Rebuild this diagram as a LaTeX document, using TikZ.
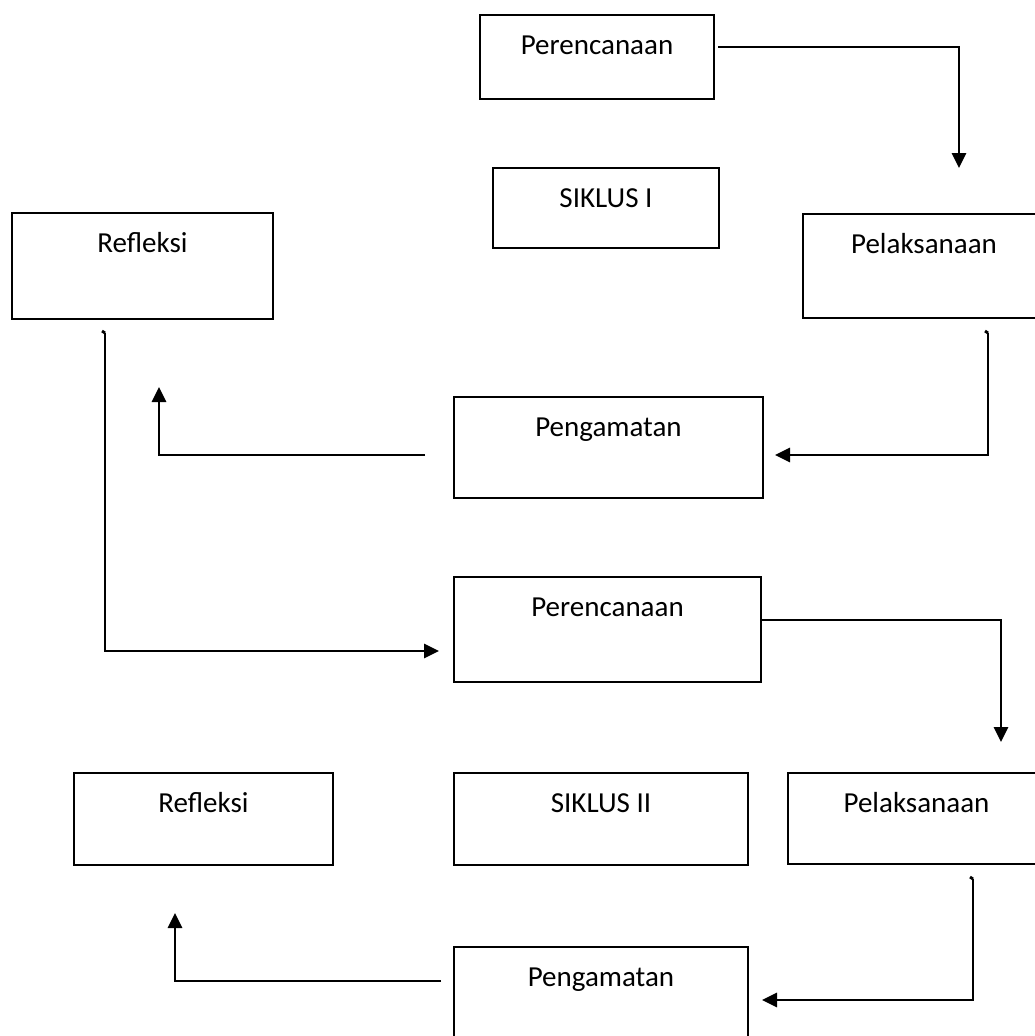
\documentclass[tikz,border=0pt]{standalone}
\usepackage{fontspec}
\setmainfont{Carlito}
\usetikzlibrary{arrows.meta,calc}
\newcommand{\tbox}[6]{%
  \node[box, minimum width={(#4-#2)*1pt}, minimum height={(#5-#3)*1pt}] (#1) at ({(#2+#4)/2},{(#3+#5)/2}) {};
  \node[lbl] (#1t) at ($(#1.north)+(0,39)$) {#6};}
\begin{document}
\begin{tikzpicture}[x=1pt,y=-1pt,
  box/.style={draw, line width=2pt, inner sep=0pt, outer sep=0pt, rectangle},
  lbl/.style={anchor=base, inner sep=0pt, font=\fontsize{29}{34}\selectfont},
  arr/.style={line width=2.8pt, -{Triangle[width=14pt,length=15pt]}},
  hook/.style={line width=2.8pt}]
\useasboundingbox (0,0) rectangle (1035,1036);

\tbox{plan1}{480}{15}{714}{99}{Perencanaan}
\tbox{sik1}{493}{168}{719}{248}{SIKLUS I}
\tbox{ref1}{12}{213}{273}{319}{Refleksi}
\tbox{pel1}{803}{214}{1045}{318}{Pelaksanaan}
\tbox{obs1}{454}{397}{763}{498}{Pengamatan}
\tbox{plan2}{454}{577}{761}{682}{Perencanaan}
\tbox{ref2}{74}{773}{333}{865}{Refleksi}
\tbox{sik2}{454}{773}{748}{865}{SIKLUS II}
\tbox{pel2}{788}{773}{1045}{864}{Pelaksanaan}
\tbox{obs2}{454}{947}{748}{1050}{Pengamatan}

% arrow 1
\coordinate (a1s) at (718,47);
\coordinate (a1e) at (959,168);
\draw[arr] (a1s) -| (a1e);
% arrow 2
\coordinate (a2h) at (985,331);
\coordinate (a2s) at (988,333);
\coordinate (a2e) at (775,455);
\draw[hook] (a2h) -- (a2s);
\draw[arr] (a2s) |- (a2e);
% arrow 3
\coordinate (a3s) at (425,455);
\coordinate (a3e) at (159,387);
\draw[arr] (a3s) -| (a3e);
% arrow 4
\coordinate (a4h) at (102,331);
\coordinate (a4s) at (105,333);
\coordinate (a4e) at (439,651);
\draw[hook] (a4h) -- (a4s);
\draw[arr] (a4s) |- (a4e);
% arrow 5
\coordinate (a5e) at (1001,742);
\draw[arr] (plan2.east |- 0,620) -| (a5e);
% arrow 6
\coordinate (a6h) at (970,877);
\coordinate (a6s) at (973,879);
\coordinate (a6e) at (762,1000);
\draw[hook] (a6h) -- (a6s);
\draw[arr] (a6s) |- (a6e);
% arrow 7
\coordinate (a7s) at (441,981);
\coordinate (a7e) at (175,913);
\draw[arr] (a7s) -| (a7e);
\end{tikzpicture}
\end{document}
